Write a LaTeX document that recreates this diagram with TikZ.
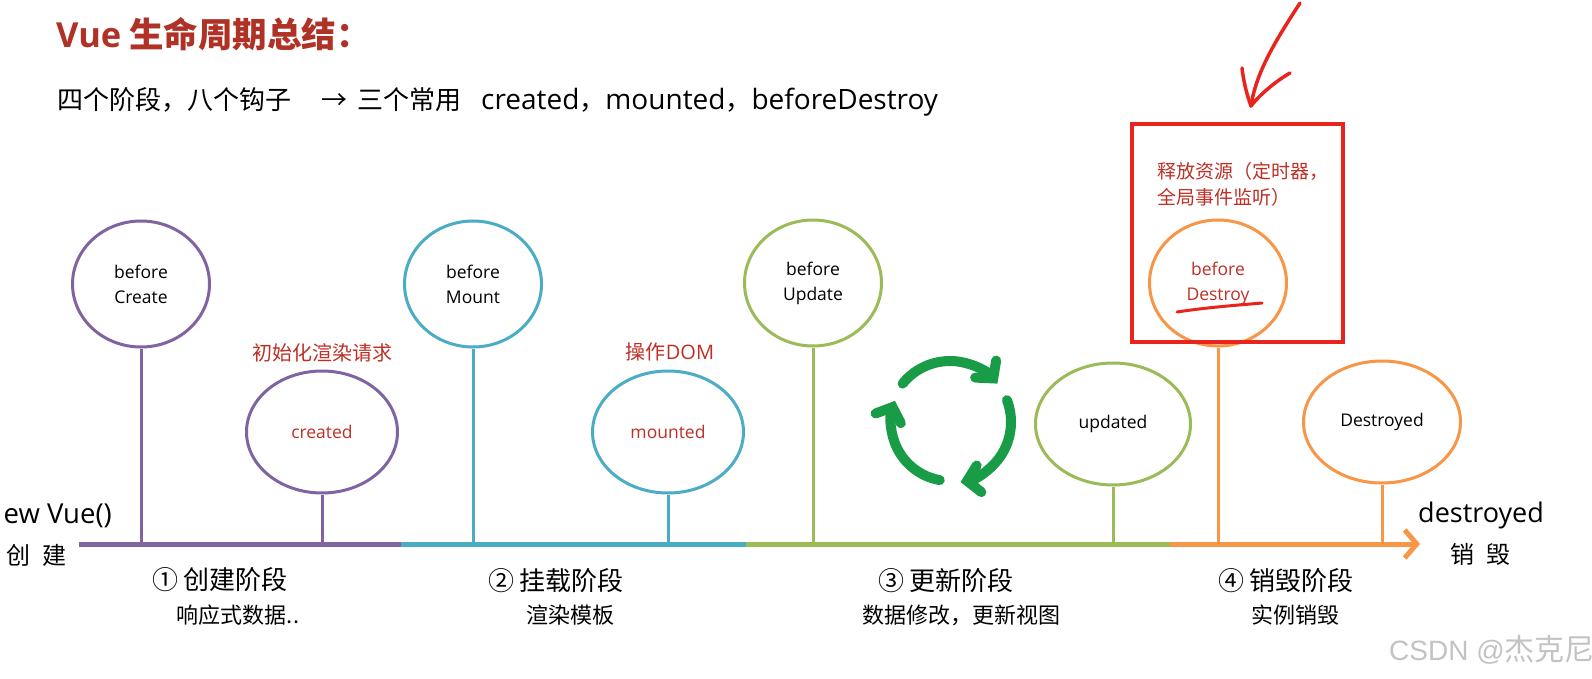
\documentclass[tikz,border=0pt]{standalone}
\usepackage{fontspec}
\setmainfont{Noto Sans CJK SC}
\newfontfamily\lat{Open Sans}
\newfontfamily\wmfont{Liberation Sans}
\usetikzlibrary{shapes.geometric,arrows.meta}
\definecolor{vpurple}{RGB}{128,100,162}
\definecolor{vblue}{RGB}{75,172,198}
\definecolor{vgreen}{RGB}{155,187,89}
\definecolor{vorange}{RGB}{247,150,70}
\definecolor{titlered}{RGB}{176,50,38}
\definecolor{hookred}{RGB}{190,48,38}
\definecolor{boxred}{RGB}{232,36,28}
\definecolor{cycgreen}{RGB}{24,156,72}
\definecolor{wmgray}{RGB}{195,195,195}
\newcommand{\fs}[2]{\fontsize{#1pt}{#2pt}\selectfont}
\tikzset{
  hookc/.style={ellipse, draw, line width=3pt, inner sep=0pt, align=center, font=\lat\fs{17.5}{25}},
  upc/.style={hookc, minimum width=137pt, minimum height=126pt},
  lowc/.style={hookc, minimum width=151pt, minimum height=122pt},
  stem/.style={line width=3pt},
  tl/.style={line width=5pt},
  phase/.style={font=\fs{26}{30}, inner sep=0pt},
  sub/.style={font=\fs{22}{26}, inner sep=0pt},
  note/.style={font=\fs{20}{24}, text=hookred, inner sep=0pt},
  cyc/.style={draw=cycgreen, line width=10pt, line cap=round, -{Straight Barb[length=12pt,width=27pt,line cap=round]}},
  pen/.style={draw=boxred, line width=3.5pt, line cap=round, line join=round}
}
\begin{document}
\begin{tikzpicture}[x=1pt,y=-1pt]
\useasboundingbox[fill=white] (0,0) rectangle (1592,679);

% title and summary
\node[anchor=west, inner sep=0pt, text=titlered, font=\fs{34.5}{40}\bfseries] (title) at (56,34) {{\lat\bfseries Vue} 生命周期总结：};
\node[anchor=west, inner sep=0pt, font=\fs{26}{30}] (summary) at (57,102) {四个阶段，八个钩子\hspace{30pt}→\hspace{10pt}三个常用\hspace{20pt}{\lat\fs{28}{30}created}，{\lat\fs{28}{30}mounted}，{\lat\fs{28}{30}beforeDestroy}};

% timeline
\coordinate (t0) at (79,544);
\coordinate (t1) at (401,544);
\coordinate (t2) at (746,544);
\coordinate (t3) at (1170,544);
\coordinate (t4) at (1420,544);
\draw[tl, vpurple] (t0) -- (t1);
\draw[tl, vblue] (t1) -- (t2);
\draw[tl, vgreen] (t2) -- (t3);
\draw[tl, vorange, -{Straight Barb[length=12pt,width=28pt]}] (t3) -- (t4);

% hooks
\node[upc, draw=vpurple] (c1) at (141,284) {before\\Create};
\node[lowc, draw=vpurple, text=hookred] (c2) at (322,432) {created};
\node[upc, draw=vblue] (c3) at (473,284) {before\\Mount};
\node[lowc, draw=vblue, text=hookred] (c4) at (668,432) {mounted};
\node[upc, draw=vgreen] (c5) at (813,283) {before\\Update};
\node[lowc, draw=vgreen, minimum width=155pt] (c6) at (1113,424) {updated};
\node[upc, draw=vorange, text=hookred] (c7) at (1218,283) {before\\Destroy};
\node[lowc, draw=vorange, minimum width=157pt] (c8) at (1382,422) {Destroyed};

\foreach \c/\col in {c1/vpurple,c2/vpurple,c3/vblue,c4/vblue,c5/vgreen,c6/vgreen,c7/vorange,c8/vorange}{
  \coordinate (\c b) at (\c.south |- t0);
  \draw[stem, \col] (\c.south) -- (\c b);
}

% notes
\node[note] (n1) at (322,353) {初始化渲染请求};
\node[note] (n2) at (670,352) {操作{\lat DOM}};

% red highlight box
\node[draw=boxred, line width=3.5pt, minimum width=211pt, minimum height=218pt, inner sep=0pt] (box) at (1237.5,233) {};
\node[anchor=north west, align=left, font=\fs{19}{26}, text=hookred, inner sep=0pt] (boxtxt) at (1157,162) {释放资源（定时器，\\全局事件监听）};
\coordinate (u1) at (1177,312);
\coordinate (u2) at (1262,303);
\draw[pen, line width=3pt] (u1) .. controls (1210,307) and (1240,305) .. (u2);
\coordinate (a0) at (1300,3);
\coordinate (a1) at (1251,106);
\coordinate (a2) at (1242,68);
\coordinate (a3) at (1290,73);
\draw[pen] (a0) .. controls (1276,40) and (1256,72) .. (a1);
\draw[pen] (a2) .. controls (1244,85) and (1248,98) .. (a1) .. controls (1262,92) and (1278,80) .. (a3);

% recycle icon
\begin{scope}[shift={(950,422)}]
\begin{scope}[x=1pt,y=1pt]
\draw[cyc] (141:61) arc[start angle=141, end angle=39, radius=61];
\draw[cyc] (21:61) arc[start angle=21, end angle=-80, radius=61];
\draw[cyc] (-100:59) arc[start angle=-100, end angle=-201, radius=59];
\end{scope}
\end{scope}

% start / end labels
\node[anchor=east, inner sep=0pt, font=\lat\fs{27.5}{30}] (start) at (112,516) {ew Vue()};
\node[inner sep=0pt, font=\fs{24}{28}] (startcn) at (36,555) {创\hspace{12pt}建};
\node[anchor=west, inner sep=0pt, font=\lat\fs{27}{30}] (endl) at (1418,515) {destroyed};
\node[inner sep=0pt, font=\fs{24}{28}] (endcn) at (1480,554) {销\hspace{12pt}毁};

% phases
\node[phase] (p1) at (220,580) {① 创建阶段};
\node[sub] (s1) at (238,615) {响应式数据..};
\node[phase] (p2) at (556,581) {② 挂载阶段};
\node[sub] (s2) at (570,615) {渲染模板};
\node[phase] (p3) at (946,581) {③ 更新阶段};
\node[sub] (s3) at (961,615) {数据修改，更新视图};
\node[phase] (p4) at (1286,581) {④ 销毁阶段};
\node[sub] (s4) at (1295,615) {实例销毁};

% watermark
\node[anchor=west, inner sep=0pt, text=wmgray, font=\fs{30}{32}] (wm) at (1389,650) {{\wmfont\fs{28}{32}CSDN @}杰克尼};
\end{tikzpicture}
\end{document}
